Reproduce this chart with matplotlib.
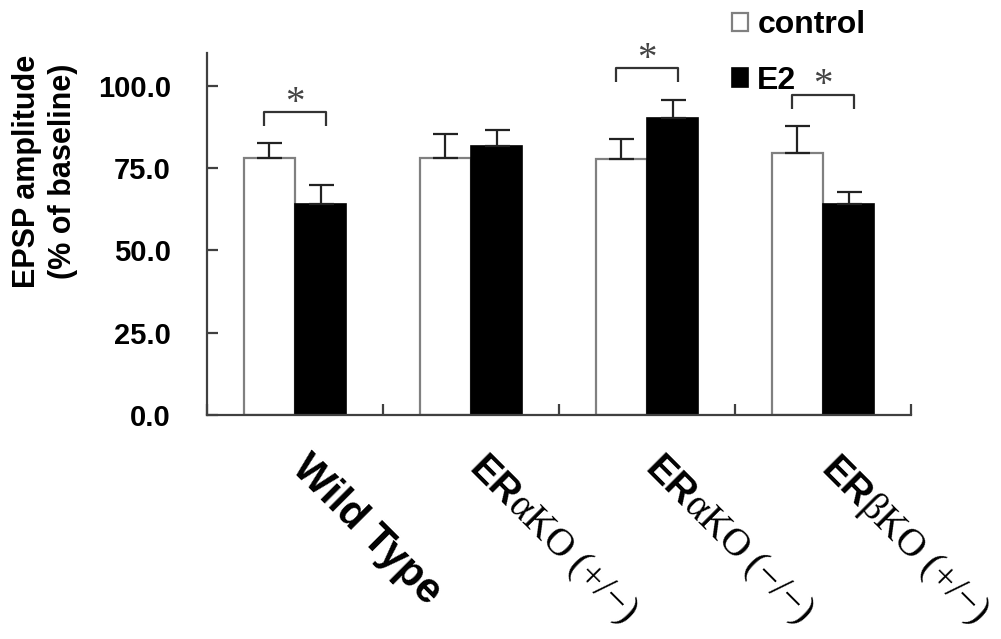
import numpy as np
import matplotlib
matplotlib.use('Agg')
import matplotlib.pyplot as plt
import matplotlib.transforms as mtransforms

plt.rcParams['font.family'] = ['Liberation Sans', 'DejaVu Sans']
plt.rcParams['mathtext.fontset'] = 'custom'
plt.rcParams['mathtext.rm'] = 'Liberation Serif'
plt.rcParams['mathtext.bf'] = 'Liberation Sans:bold'
plt.rcParams['mathtext.it'] = 'Liberation Serif:italic'

# data
groups = ['Wild Type',
          r'$\mathbf{ER}\mathrm{\alpha KO\ ({+}/{-})}$',
          r'$\mathbf{ER}\mathrm{\alpha KO\ ({-}/{-})}$',
          r'$\mathbf{ER}\mathrm{\beta KO\ ({+}/{-})}$']
label_sizes = [30, 28, 28, 28]
control = [78.2, 78.2, 77.9, 79.7]
control_err = [4.5, 7.3, 6.1, 8.2]
e2 = [64.0, 81.8, 90.3, 64.0]
e2_err = [6.0, 4.9, 5.5, 3.9]
yticks = [0, 25, 50, 75, 100]

# significance brackets: group index, bracket top
sig_groups = [0, 2, 3]
sig_top = [92.1, 105.5, 97.3]

fig = plt.figure(figsize=(10.01, 6.39), dpi=100)
ax = fig.add_axes([0.2068, 0.3505, 0.7033, 0.5665])

x = np.arange(len(groups))
w = 0.29
ax.bar(x - w/2, control, w, color='white', edgecolor='#808080', linewidth=1.6, label='control', zorder=2)
ax.bar(x + w/2, e2, w, color='black', edgecolor='black', linewidth=1.2, label='E2', zorder=2)
ax.errorbar(x - w/2, control, yerr=[np.zeros(len(x)), control_err], fmt='none',
            ecolor='#222222', elinewidth=1.6, capsize=9, capthick=1.6, zorder=3)
ax.errorbar(x + w/2, e2, yerr=[np.zeros(len(x)), e2_err], fmt='none',
            ecolor='#222222', elinewidth=1.6, capsize=9, capthick=1.6, zorder=3)

# brackets + stars
for g, top in zip(sig_groups, sig_top):
    ax.plot([g - 0.175, g - 0.175, g + 0.175, g + 0.175], [top - 4.3, top, top, top - 4.3],
            color='#333333', lw=1.6, solid_capstyle='butt', zorder=3)
    ax.text(g, top - 0.2, '*', ha='center', va='baseline', fontsize=28,
            family='Liberation Serif', color='#444444')

ax.set_xlim(-0.5, len(groups) - 0.5)
ax.set_ylim(0, 110)
ax.set_yticks(yticks)
ax.set_yticklabels(['%.1f' % v for v in yticks], fontsize=21, fontweight='bold')
ax.set_xticks(np.arange(len(groups) + 1) - 0.5)
ax.set_xticklabels([])
ax.tick_params(axis='both', direction='in', length=8, width=1.6, color='#404040')
ax.tick_params(axis='y', pad=26)
for s in ['top', 'right']:
    ax.spines[s].set_visible(False)
for s in ['left', 'bottom']:
    ax.spines[s].set_linewidth(1.6)
    ax.spines[s].set_color('#404040')

# rotated category labels
trans = mtransforms.blended_transform_factory(ax.transData, ax.transAxes)
for i, lab in enumerate(groups):
    ax.text(i + 0.02, -0.13, lab, transform=trans, rotation=-45, rotation_mode='anchor',
            ha='left', va='center', fontsize=label_sizes[i], fontweight='bold')

fig.text(0.045, 1 - 171/639, 'EPSP amplitude\n(% of baseline)', rotation=90,
         ha='center', va='center', fontsize=22, fontweight='bold', linespacing=1.25,
         multialignment='center')

ax.legend(loc='upper left', bbox_to_anchor=(0.731, 0.984), bbox_transform=fig.transFigure,
          frameon=False, prop={'weight': 'bold', 'size': 23},
          handlelength=0.5, handleheight=0.5, handletextpad=0.3, labelspacing=0.8,
          borderpad=0, borderaxespad=0)

fig.savefig('out.png', dpi=100)
